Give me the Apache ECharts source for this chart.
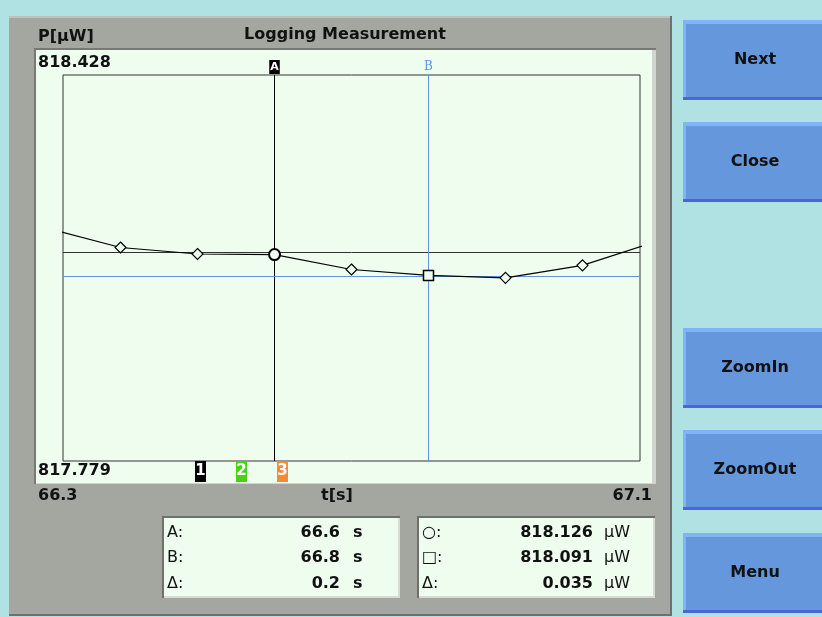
<!DOCTYPE html>
<html><head><meta charset="utf-8">
<script src="https://cdn.jsdelivr.net/npm/echarts@6/dist/echarts.min.js"></script>
<style>html,body{margin:0;padding:0;background:#b0e2e4}#c{width:822px;height:617px}</style>
</head><body><div id="c"></div>
<script>
// ---- data ----
const times = [66.3, 66.4, 66.5, 66.6, 66.7, 66.8, 66.9, 67.0, 67.1];
const power = [818.172, 818.138, 818.127, 818.126, 818.101, 818.091, 818.087, 818.108, 818.150];
const xRange = [66.3253, 67.0747];
const yRange = [817.779, 818.428];
const xLabels = ['66.3', '67.1'];
const yLabels = ['818.428', '817.779'];
const cursorA = [66.6, 818.126];
const cursorB = [66.8, 818.091];
const buttons = ['Next', 'Close', 'ZoomIn', 'ZoomOut', 'Menu'];
const timeRows = [['A:', '66.6', 's'], ['B:', '66.8', 's'], ['Δ:', '0.2', 's']];
const powerRows = [['○:', '818.126', 'μW'], ['□:', '818.091', 'μW'], ['Δ:', '0.035', 'μW']];
const traceMarks = ['1', '2', '3'];
const traceColors = ['#000000', '#44d414', '#f28a3c'];

// ---- styling ----
const FONT = 'bold 16px "DejaVu Sans"';
const FONTN = '16px "DejaVu Sans"';
const C_BG = '#b0e2e4', C_GREY = '#a4a79f', C_LIGHT = '#effdef';
const C_BLUE = '#5f93e8';

const chart = echarts.init(document.getElementById('c'), null, {renderer: 'canvas'});

function rect(x, y, w, h, fill, z) {
  return {type: 'rect', z: z || 0, silent: true, shape: {x, y, width: w, height: h}, style: {fill}};
}
function text(t, x, y, align, font, fill) {
  return {type: 'text', z: 50, silent: true,
    style: {text: t, x, y, fill: fill || '#111', font: font || FONT,
      align: align || 'left', verticalAlign: 'middle', textAlign: align || 'left', textVerticalAlign: 'middle'}};
}

const g = [];
// grey panel
g.push(rect(9, 16, 663, 600, '#6e716b', -20));
g.push(rect(9, 16, 661, 598, C_GREY, -19));
g.push(rect(9, 16, 661, 2, '#bfc1bb', -18));
// light inner panel with inset border
g.push(rect(34, 48, 622, 436, '#777a74', -17));
g.push(rect(36, 50, 620, 434, '#d2d4cf', -16));
g.push(rect(36, 50, 616, 433, C_LIGHT, -15));
// titles
g.push(text('P[μW]', 38, 37, 'left'));
g.push(text('Logging Measurement', 345, 35, 'center'));
g.push(text(yLabels[0], 38, 63, 'left'));
g.push(text(yLabels[1], 38, 471, 'left'));
g.push(text(xLabels[0], 38, 496, 'left'));
g.push(text('t[s]', 337, 496, 'center'));
g.push(text(xLabels[1], 652, 496, 'right'));
// trace markers
const markX = [195, 236, 277];
traceMarks.forEach((m, i) => {
  g.push(rect(markX[i], 461, 11, 21, traceColors[i], 10));
  g.push(text(m, markX[i] + 5.5, 471, 'center', 'bold 15px "DejaVu Sans"', '#ffffff'));
});
// readout boxes
function box(x, w, rows, valRight, unitLeft) {
  g.push(rect(x - 1, 516, w + 1, 82, '#6e716b', -14));
  g.push(rect(x + 1, 518, w - 1, 80, '#d8dad5', -13));
  g.push(rect(x + 1, 518, w - 3, 78, C_LIGHT, -12));
  const ys = [533, 558, 584];
  rows.forEach((r, i) => {
    g.push(text(r[0], x + 4, ys[i], 'left', FONTN));
    g.push(text(r[1], valRight, ys[i], 'right'));
    g.push(text(r[2], unitLeft, ys[i], 'left', r[2] === 's' ? FONT : FONTN));
  });
}
box(163, 237, timeRows, 340, 353);
box(418, 237, powerRows, 593, 604);
// buttons
const btnTop = [20, 122, 328, 430, 533];
buttons.forEach((b, i) => {
  const y = btnTop[i];
  g.push(rect(683, y, 150, 80, '#80b4f8', -10));
  g.push(rect(683, y + 77, 150, 3, '#4a66d8', -9));
  g.push(rect(686, y + 4, 150, 73, '#6597dc', -8));
  g.push(text(b, 755, y + 40, 'center'));
});

const seriesData = times.map((t, i) => {
  let symbol = 'diamond', size = 11, bw = 1.2;
  if (t === cursorA[0]) { symbol = 'circle'; size = 11; bw = 2; }
  if (t === cursorB[0]) { symbol = 'rect'; size = 10; bw = 1.5; }
  return {value: [t, power[i]], symbol, symbolSize: size,
    itemStyle: {color: C_LIGHT, borderColor: '#000', borderWidth: bw}};
});

const option = {
  backgroundColor: C_BG,
  animation: false,
  graphic: g,
  grid: {left: 63, top: 75, width: 577, height: 386, show: true,
    backgroundColor: 'transparent', borderColor: '#333', borderWidth: 1},
  xAxis: {type: 'value', min: xRange[0], max: xRange[1],
    axisLine: {show: false}, axisTick: {show: false}, axisLabel: {show: false}, splitLine: {show: false}},
  yAxis: {type: 'value', min: yRange[0], max: yRange[1],
    axisLine: {show: false}, axisTick: {show: false}, axisLabel: {show: false}, splitLine: {show: false}},
  series: [
    {type: 'line', z: 2, data: [], silent: true,
      markLine: {silent: true, symbol: ['none', 'none'], animation: false,
        data: [
          {xAxis: cursorA[0], lineStyle: {color: '#000', width: 1, type: 'solid'},
            label: {show: true, position: 'end', formatter: 'A', color: '#fff', backgroundColor: '#000',
              fontSize: 11, fontWeight: 'bold', fontFamily: 'DejaVu Sans', padding: [2, 1, 1, 1], distance: 1}},
          {yAxis: cursorA[1], lineStyle: {color: '#333', width: 1, type: 'solid'}, label: {show: false}},
          {xAxis: cursorB[0], lineStyle: {color: C_BLUE, width: 1, type: 'solid'},
            label: {show: true, position: 'end', formatter: 'B', color: C_BLUE,
              fontSize: 12, fontFamily: 'DejaVu Serif', distance: 2}},
          {yAxis: cursorB[1], lineStyle: {color: C_BLUE, width: 1, type: 'solid'}, label: {show: false}}
        ]}},
    {type: 'line', z: 5, data: seriesData, silent: true, clip: true,
      lineStyle: {color: '#000', width: 1.2}, showAllSymbol: true}
  ]
};
chart.setOption(option);
</script></body></html>
